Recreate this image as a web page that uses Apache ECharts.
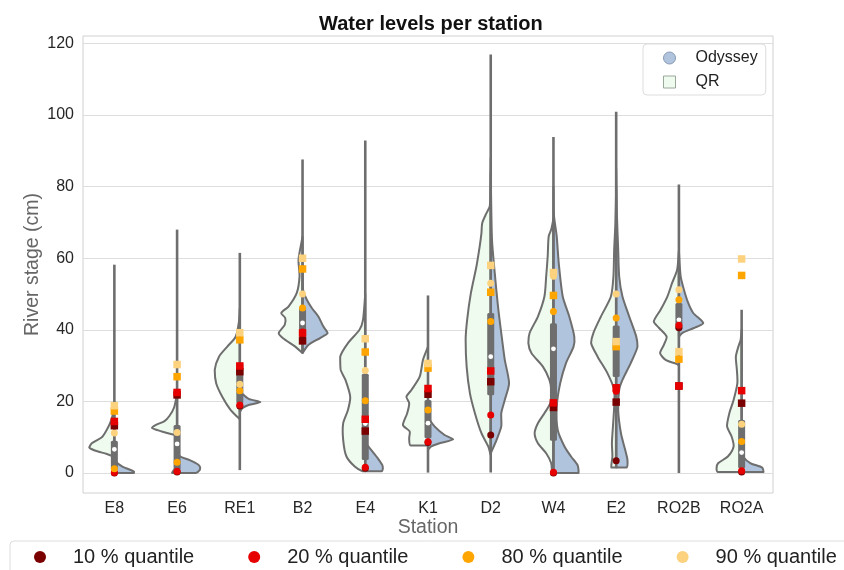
<!DOCTYPE html>
<html>
<head>
<meta charset="utf-8">
<script src="https://cdn.jsdelivr.net/npm/echarts@6/dist/echarts.min.js"></script>
<style>html,body{margin:0;padding:0;background:#fff}#c{width:844px;height:570px}</style>
</head>
<body>
<div id="c"></div>
<script>
// ---------- data ----------
const stations = ['E8','E6','RE1','B2','E4','K1','D2','W4','E2','RO2B','RO2A'];
const yTicks = [0, 20, 40, 60, 80, 100, 120];

// inner box (combined) statistics
const whiskerLow  = [0, 0, 0.8, 34, 1, 0.1, 0.1, 0.1, 1.5, 0, 0.4];
const whiskerHigh = [58.2, 68.0, 61.5, 87.6, 92.9, 49.6, 116.9, 93.9, 100.9, 80.6, 45.6];
const boxQ1       = [0.8, 0.8, 19.4, 38.0, 3.6, 9.7, 21.7, 9.0, 26.8, 40.0, 1.3];
const boxQ3       = [9.0, 13.4, 30.7, 46.5, 27.7, 20.4, 44.7, 41.8, 41.2, 47.5, 14.8];
const boxMedian   = [6.6, 8.1, 24.5, 41.9, 13.8, 13.9, 32.5, 34.7, 35.6, 42.8, 5.7];

// kernel density profiles: [river stage, relative density]
const qrDensity = [
  [[4.5,0],[5.3,0.3],[6.2,0.75],[7.1,1.0],[8.3,0.9],[10,0.5],[11.6,0.34],[13.9,0.17],[16.7,0.05],[20,0]],
  [[0,0.2],[1,0.1],[2,0],[10.2,0],[10.8,0.2],[11.7,0.66],[12.6,1.0],[13.4,0.86],[14.5,0.5],[16,0.3],[18.3,0.12],[22,0]],
  [[15,0],[15.7,0.1],[17.6,0.37],[21.3,0.7],[25,0.94],[28.8,1.0],[32.5,0.83],[35.3,0.5],[38,0.17],[42,0.04],[46,0]],
  [[33.5,0],[35.3,0.29],[37.7,0.79],[39.1,0.95],[41.4,0.71],[43.3,0.69],[44.7,0.85],[46.5,0.56],[50.3,0.23],[55,0.12],[59.6,0.16],[66,0]],
  [[0.5,0.12],[1.8,0.42],[4.6,0.75],[9.2,0.88],[13.9,0.88],[17.6,0.69],[21.3,0.6],[26,0.79],[28.8,0.98],[32.5,1.0],[36.3,0.69],[40,0.23],[42.8,0.09],[50,0]],
  [[7.7,0.7],[9.7,0.75],[11.6,0.73],[13.4,1.0],[16.7,0.83],[19.5,0.75],[21.3,0.86],[23.2,0.66],[26.9,0.33],[31.6,0.2],[35.3,0]],
  [[5,0],[7.4,0.1],[11.1,0.37],[16.7,0.63],[22.3,0.83],[29.7,0.96],[37.2,1.0],[42.8,0.94],[50.3,0.79],[57.7,0.57],[63.3,0.44],[67,0.37],[69.8,0.34],[72.6,0.17],[74.5,0.04],[78,0.02],[88,0]],
  [[0,0.05],[2.7,0.09],[5.5,0.29],[8.3,0.62],[11.1,0.75],[13.9,0.62],[16.7,0.36],[19.5,0.13],[23.2,0.09],[26,0.16],[29.7,0.42],[33.5,0.88],[36.3,1.0],[39.1,0.95],[43.7,0.62],[49.3,0.36],[54.9,0.29],[60.5,0.23],[66.1,0.19],[68,0.09],[71,0]],
  [[1.5,0.19],[4.6,0.15],[8.3,0.17],[13.9,0.12],[18.5,0.08],[23.2,0.08],[27.9,0.35],[32.5,0.74],[36.3,1.0],[39.1,0.91],[43.7,0.61],[49.3,0.21],[54.9,0.11],[62.4,0.08],[70,0.03],[80,0]],
  [[30,0],[30.5,0.1],[31.6,0.53],[33.5,0.75],[35.8,0.6],[38.1,0.49],[40.5,0.79],[42.3,1.0],[45.6,0.73],[49.3,0.46],[53.1,0.27],[56.8,0.07],[62,0]],
  [[0.3,0.95],[1.3,1.0],[2.7,0.94],[4.6,0.55],[7.4,0.32],[10.2,0.4],[13,0.58],[16.7,0.49],[20.4,0.32],[25.1,0.17],[28.8,0.19],[32.5,0.23],[35.3,0.13],[37.2,0.04],[40,0]]
];
const odysseyDensity = [
  [[0,0.78],[0.4,0.78],[1.8,0.32],[3.2,0.05],[4.5,0]],
  [[0,0.75],[0.8,0.9],[1.5,0.92],[2.3,0.85],[3.6,0.5],[4.5,0.15],[5.5,0]],
  [[17,0],[18.1,0.1],[19,0.35],[19.8,0.82],[20.7,0.35],[22.7,0]],
  [[33.5,0],[35.8,0.24],[37.7,0.7],[39.1,1.0],[40.9,0.83],[43.7,0.63],[46.1,0.37],[48.4,0.17],[51.2,0.02],[56,0]],
  [[0.5,0.65],[1.3,0.7],[2.2,0.68],[4.1,0.5],[6.4,0.24],[8.5,0]],
  [[6.5,0],[7.4,0.13],[8.3,0.46],[9.4,1.0],[10.6,0.66],[13,0.26],[15.5,0]],
  [[5.5,0],[9.2,0.23],[13,0.42],[16.7,0.42],[20.4,0.56],[25.1,0.73],[31.6,0.56],[39.1,0.42],[46.5,0.29],[55.9,0.16],[65.2,0.05],[84,0]],
  [[0,1.0],[0.8,1.0],[2.2,0.96],[4.6,0.7],[7.4,0.44],[12,0.17],[18.5,0.13],[25.1,0.27],[30.7,0.5],[35.3,0.8],[38.1,0.83],[43.7,0.63],[49.3,0.37],[58.7,0.21],[66.1,0.13],[72,0.02],[80,0]],
  [[1.5,0.41],[3.6,0.45],[6.4,0.36],[11.1,0.19],[17.6,0.08],[23.2,0.12],[26,0.25],[30.7,0.58],[35.3,0.85],[38.1,0.8],[43.7,0.52],[49.3,0.25],[54.9,0.12],[62.4,0.08],[72,0.03],[85,0]],
  [[38,0],[39.1,0.13],[40.5,0.6],[41.9,0.97],[44.7,0.57],[47.5,0.37],[51.2,0.2],[54.9,0.07],[62,0]],
  [[0.3,0.87],[1.5,0.82],[2.7,0.36],[4.6,0.05],[6,0]]
];

// quantiles, QR (squares)
const qrQ10 = [13.2, 21.8, 28.3, 36.9, 11.7, 22.0, 25.5, 18.3, 19.8, 24.3, 19.5];
const qrQ20 = [14.4, 22.5, 29.9, 39.1, 15.0, 23.6, 28.5, 19.6, 23.8, 24.3, 23.0];
const qrQ80 = [17.3, 26.9, 37.2, 57.0, 33.8, 29.3, 50.5, 49.6, 35.3, 31.8, 55.2];
const qrQ90 = [18.8, 30.3, 39.2, 60.0, 37.5, 30.6, 58.0, 56.0, 36.7, 33.9, 59.8];
// quantiles, Odyssey (circles)
const odyQ10 = [0.0, 0.3, 18.7, 37.5, 1.3, 8.5, 10.6, 0.0, 3.4, 40.6, 0.3];
const odyQ20 = [0.1, 0.5, 19.0, 39.4, 1.6, 8.7, 16.2, 0.2, 22.8, 41.3, 0.6];
const odyQ80 = [1.2, 3.0, 23.0, 46.1, 20.2, 17.6, 42.3, 45.1, 43.3, 48.4, 8.8];
const odyQ90 = [11.2, 11.3, 24.8, 50.0, 28.6, 30.6, 53.0, 55.0, 50.0, 51.2, 13.6];

const quantileNames = ['10 % quantile', '20 % quantile', '80 % quantile', '90 % quantile'];

// ---------- styling ----------
const GRAY = '#6e6e6e';
const QR_FILL = '#f0fbf0';
const ODY_FILL = '#b0c4de';
const QCOL = ['#7a0000', '#e60000', '#ffa500', '#fcd27e'];
const FONT = 'Liberation Sans, Arial, sans-serif';

function halfRenderer(profiles, side, fill) {
  return function (params, api) {
    const i = params.dataIndex;
    const prof = profiles[i];
    const cx = api.coord([i, 0])[0];
    const hw = api.size([1, 0])[0] * 0.4;
    const pts = [];
    pts.push([cx, api.coord([i, prof[0][0]])[1]]);
    prof.forEach(function (p) { pts.push([cx + side * p[1] * hw, api.coord([i, p[0]])[1]]); });
    pts.push([cx, api.coord([i, prof[prof.length - 1][0]])[1]]);
    let x0 = Infinity, y0 = Infinity, x1 = -Infinity, y1 = -Infinity;
    pts.forEach(function (p) { x0 = Math.min(x0, p[0]); x1 = Math.max(x1, p[0]); y0 = Math.min(y0, p[1]); y1 = Math.max(y1, p[1]); });
    return {
      type: 'polygon',
      shape: { points: pts, smooth: 0.25, smoothConstraint: [[x0, y0], [x1, y1]] },
      style: { fill: fill, stroke: GRAY, lineWidth: 2, lineJoin: 'round' }
    };
  };
}

function boxRenderer(params, api) {
  const i = params.dataIndex;
  const cx = api.coord([i, 0])[0];
  const yLo = api.coord([i, whiskerLow[i]])[1];
  const yHi = api.coord([i, whiskerHigh[i]])[1];
  const y1 = api.coord([i, boxQ1[i]])[1];
  const y3 = api.coord([i, boxQ3[i]])[1];
  const ym = api.coord([i, boxMedian[i]])[1];
  return {
    type: 'group',
    children: [
      { type: 'line', shape: { x1: cx, y1: yLo, x2: cx, y2: yHi }, style: { stroke: GRAY, lineWidth: 2.6 } },
      { type: 'rect', shape: { x: cx - 3.5, y: y3, width: 7, height: y1 - y3, r: 1.5 }, style: { fill: GRAY } },
      { type: 'circle', shape: { cx: cx, cy: ym, r: 2.4 }, style: { fill: '#ffffff' } }
    ]
  };
}

const idxData = stations.map(function (_, i) { return [i, 0]; });

const series = [
  { name: 'QR', type: 'custom', renderItem: halfRenderer(qrDensity, -1, QR_FILL), data: idxData,
    encode: { x: 0, y: 1 }, itemStyle: { color: QR_FILL, borderColor: GRAY }, silent: true, z: 2 },
  { name: 'Odyssey', type: 'custom', renderItem: halfRenderer(odysseyDensity, 1, ODY_FILL), data: idxData,
    encode: { x: 0, y: 1 }, itemStyle: { color: ODY_FILL, borderColor: GRAY }, silent: true, z: 2 },
  { name: 'inner', type: 'custom', renderItem: boxRenderer, data: idxData,
    encode: { x: 0, y: 1 }, silent: true, z: 3 }
];

const odyQ = [odyQ10, odyQ20, odyQ80, odyQ90];
const qrQ = [qrQ10, qrQ20, qrQ80, qrQ90];
odyQ.forEach(function (arr, k) {
  series.push({ name: quantileNames[k], type: 'scatter', symbol: 'circle', symbolSize: 7, z: 4,
    itemStyle: { color: QCOL[k], opacity: 1 }, data: arr.map(function (v, i) { return [i, v]; }) });
});
qrQ.forEach(function (arr, k) {
  series.push({ name: quantileNames[k], type: 'scatter', symbol: 'rect', symbolSize: 7.5, z: 5,
    itemStyle: { color: QCOL[k], opacity: 1 }, data: arr.map(function (v, i) { return [i, v]; }) });
});

const chart = echarts.init(document.getElementById('c'), null, { renderer: 'canvas' });
chart.setOption({
  animation: false,
  backgroundColor: '#ffffff',
  textStyle: { fontFamily: FONT },
  title: {
    text: 'Water levels per station', left: 314, top: 9,
    textStyle: { fontSize: 20, fontWeight: 'bold', color: '#111', fontFamily: FONT }
  },
  legend: [
    {
      data: [
        { name: 'Odyssey', icon: 'circle', itemStyle: { color: ODY_FILL, borderColor: '#8a9ab5', borderWidth: 1 } },
        { name: 'QR', icon: 'rect', itemStyle: { color: QR_FILL, borderColor: '#9aa89a', borderWidth: 1 } }
      ],
      orient: 'vertical', left: 643, top: 44,
      itemWidth: 12, itemHeight: 12, itemGap: 8,
      padding: [6, 8, 5, 20],
      backgroundColor: '#ffffff', borderColor: '#dddddd', borderWidth: 1, borderRadius: 4,
      textStyle: { fontSize: 16, color: '#222', fontFamily: FONT, padding: [0, 0, 0, 15] },
      selectedMode: false
    },
    {
      data: quantileNames.map(function (n) { return { name: n, icon: 'circle' }; }),
      orient: 'horizontal', left: 10, top: 541, width: 860,
      itemWidth: 12, itemHeight: 12, itemGap: 54,
      padding: [6, 40, 20, 24],
      backgroundColor: '#ffffff', borderColor: '#dddddd', borderWidth: 1, borderRadius: 4,
      textStyle: { fontSize: 20, color: '#222', fontFamily: FONT, padding: [0, 0, 0, 22] },
      selectedMode: false
    }
  ],
  grid: { left: 83, right: 71, top: 36, bottom: 77, show: true, borderColor: '#d0d0d0', borderWidth: 1, containLabel: false },
  xAxis: {
    type: 'category', data: stations, boundaryGap: true,
    axisLine: { show: false }, axisTick: { show: false },
    axisLabel: { fontSize: 16, color: '#262626', margin: 8, fontFamily: FONT },
    splitLine: { show: false },
    name: 'Station', nameLocation: 'middle', nameGap: 25, nameMoveOverlap: false,
    nameTextStyle: { fontSize: 19.5, color: '#666', fontFamily: FONT }
  },
  yAxis: {
    type: 'value', min: -5.6, max: 122.1,
    axisLine: { show: false },
    axisTick: { show: false, customValues: yTicks },
    axisLabel: { customValues: yTicks, fontSize: 16, color: '#262626', margin: 9, fontFamily: FONT },
    splitLine: { show: true, lineStyle: { color: '#dedede', width: 1 } },
    name: 'River stage (cm)', nameLocation: 'middle', nameGap: 40, nameRotate: 90, nameMoveOverlap: false,
    nameTextStyle: { fontSize: 19.5, color: '#666', fontFamily: FONT }
  },
  series: series
});
</script>
</body>
</html>
